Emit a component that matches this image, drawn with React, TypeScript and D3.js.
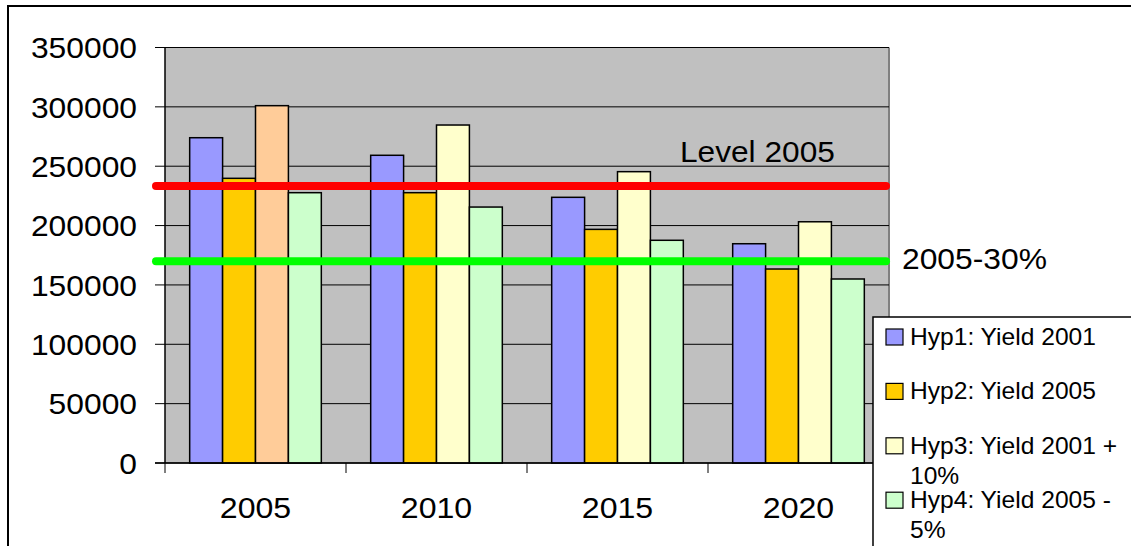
import * as d3 from 'd3';

const years = ['2005', '2010', '2015', '2020'];
const seriesNames = ['Hyp1: Yield 2001', 'Hyp2: Yield 2005', 'Hyp3: Yield 2001 + 10%', 'Hyp4: Yield 2005 - 5%'];
const legendLines = [['Hyp1: Yield 2001'], ['Hyp2: Yield 2005'], ['Hyp3: Yield 2001 +', '10%'], ['Hyp4: Yield 2005 -', '5%']];
const seriesColors = ['#9999FF', '#FFCC00', '#FFFFCC', '#CCFFCC'];

const hyp1 = [274000, 259200, 223800, 184700];
const hyp2 = [239800, 227700, 196800, 163400];
const hyp3 = [301000, 284700, 245400, 203200];
const hyp4 = [227700, 215600, 187600, 155000];
const series = [hyp1, hyp2, hyp3, hyp4];

// the 2005 Hyp3 bar has its own point colour
const pointOverrides: Record<string, string> = { '2-0': '#FFCC99' };

const yTicks = [0, 50000, 100000, 150000, 200000, 250000, 300000, 350000];
const level2005 = 233300;
const level2005minus30 = 170000;

const FONT = '"Liberation Sans", Arial, sans-serif';

export default function App() {
  const width = 1131;
  const height = 546;
  const plot = { left: 165, right: 889, top: 47.5, bottom: 463 };

  const x = d3.scaleBand().domain(years).range([plot.left, plot.right]).padding(0);
  const inner = d3
    .scaleBand()
    .domain(series.map((_, i) => String(i)))
    .range([0, x.bandwidth()])
    .paddingInner(0)
    .paddingOuter(0.75);
  const y = d3.scaleLinear().domain([0, 350000]).range([plot.bottom, plot.top]);

  const boundaries = [...years.map(d => x(d) as number), plot.right];

  return (
    <svg
      width={width}
      height={height}
      style={{ position: 'absolute', left: 0, top: 0, display: 'block', background: '#fff' }}
      fontFamily={FONT}
    >
      {/* chart frame */}
      <rect x={8} y={6} width={1200} height={700} fill="#fff" stroke="#000" strokeWidth={2} />

      {/* plot area */}
      <rect x={plot.left} y={plot.top} width={plot.right - plot.left} height={plot.bottom - plot.top} fill="#C0C0C0" />
      <line x1={plot.right} x2={plot.right} y1={plot.top} y2={plot.bottom} stroke="#808080" strokeWidth={2} />

      {yTicks.map(t => (
        <line key={t} x1={plot.left - 10} x2={plot.right} y1={y(t)} y2={y(t)} stroke="#000" strokeWidth={1} />
      ))}

      {/* bars */}
      {series.map((vals, si) =>
        vals.map((v, ci) => (
          <rect
            key={`${si}-${ci}`}
            x={(x(years[ci]) as number) + (inner(String(si)) as number)}
            y={y(v)}
            width={inner.bandwidth()}
            height={y(0) - y(v)}
            fill={pointOverrides[`${si}-${ci}`] || seriesColors[si]}
            stroke="#000"
            strokeWidth={1.5}
          />
        ))
      )}

      {/* axes */}
      <line x1={plot.left} x2={plot.left} y1={plot.top} y2={plot.bottom} stroke="#000" strokeWidth={1.5} />
      <line x1={plot.left - 10} x2={plot.right} y1={plot.bottom} y2={plot.bottom} stroke="#000" strokeWidth={1.5} />
      {boundaries.map((b, i) => (
        <line key={i} x1={b} x2={b} y1={plot.bottom} y2={plot.bottom + 10} stroke="#000" strokeWidth={1} />
      ))}

      {yTicks.map(t => (
        <g key={t} transform={`translate(137,${y(t) + 10.8}) scale(1.06,1)`}>
          <text textAnchor="end" fontSize={30} fill="#000">
            {t}
          </text>
        </g>
      ))}

      {years.map(yr => (
        <g key={yr} transform={`translate(${(x(yr) as number) + x.bandwidth() / 2},518) scale(1.07,1)`}>
          <text textAnchor="middle" fontSize={30} fill="#000">
            {yr}
          </text>
        </g>
      ))}

      {/* reference lines */}
      <line
        x1={plot.left - 9}
        x2={plot.right - 3}
        y1={y(level2005)}
        y2={y(level2005)}
        stroke="#FF0000"
        strokeWidth={8}
        strokeLinecap="round"
      />
      <line
        x1={plot.left - 9}
        x2={plot.right - 3}
        y1={y(level2005minus30)}
        y2={y(level2005minus30)}
        stroke="#00FF00"
        strokeWidth={8}
        strokeLinecap="round"
      />
      <g transform="translate(680,162) scale(1.055,1)">
        <text fontSize={30} fill="#000">Level 2005</text>
      </g>
      <g transform="translate(902,269) scale(1.06,1)">
        <text fontSize={30} fill="#000">2005-30%</text>
      </g>

      {/* legend */}
      <rect x={873} y={317} width={300} height={300} fill="#fff" stroke="#000" strokeWidth={1.5} />
      {seriesNames.map((name, i) => {
        const base = 345 + i * 54.4;
        return (
          <g key={name}>
            <rect x={886} y={base - 16} width={17} height={16} fill={seriesColors[i]} stroke="#000" strokeWidth={1.2} />
            {legendLines[i].map((ln, li) => (
              <g key={li} transform={`translate(910,${base + li * 30}) scale(1.07,1)`}>
                <text fontSize={23} fill="#000">
                  {ln}
                </text>
              </g>
            ))}
          </g>
        );
      })}
    </svg>
  );
}
